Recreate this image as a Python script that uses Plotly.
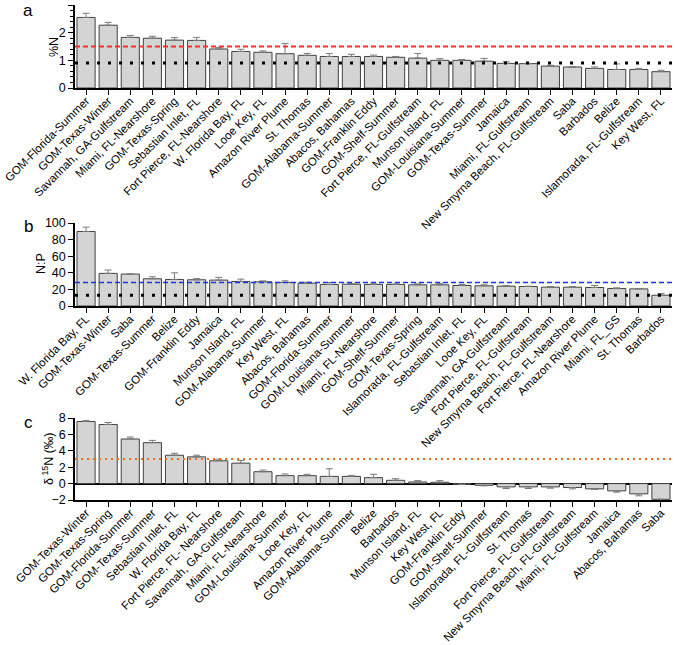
import plotly.graph_objects as go

# ---------------- data ----------------
a_sites = ["GOM-Florida-Summer", "GOM-Texas-Winter", "Savannah, GA-Gulfstream", "Miami, FL-Nearshore",
           "GOM-Texas-Spring", "Sebastian Inlet, FL", "Fort Pierce, FL-Nearshore", "W. Florida Bay, FL",
           "Looe Key, FL", "Amazon River Plume", "St. Thomas", "GOM-Alabama-Summer", "Abacos, Bahamas",
           "GOM-Franklin Eddy", "GOM-Shelf-Summer", "Fort Pierce, FL-Gulfstream", "Munson Island, FL",
           "GOM-Louisiana-Summer", "GOM-Texas-Summer", "Jamaica", "Miami, FL-Gulfstream",
           "New Smyrna Beach, FL-Gulfstream", "Saba", "Barbados", "Belize", "Islamorada, FL-Gulfstream",
           "Key West, FL"]
a_vals = [2.55, 2.27, 1.83, 1.80, 1.73, 1.72, 1.41, 1.32, 1.29, 1.24, 1.18, 1.14, 1.14,
          1.14, 1.11, 1.08, 1.00, 1.00, 0.97, 0.89, 0.88, 0.79, 0.76, 0.71, 0.67, 0.67, 0.59]
a_err = [0.15, 0.10, 0.07, 0.07, 0.09, 0.11, 0.06, 0.08, 0.05, 0.37, 0.07, 0.11, 0.08,
         0.05, 0.03, 0.17, 0.06, 0.03, 0.10, 0.06, 0.01, 0.03, 0.0, 0.05, 0.20, 0.04, 0.05]
a_line_red = 1.5
a_line_black = 0.9

b_sites = ["W. Florida Bay, FL", "GOM-Texas-Winter", "Saba", "GOM-Texas-Summer", "Belize",
           "GOM-Franklin Eddy", "Jamaica", "Munson Island, FL", "GOM-Alabama-Summer", "Key West, FL",
           "Abacos, Bahamas", "GOM-Florida-Summer", "GOM-Louisiana-Summer", "Miami, FL-Nearshore",
           "GOM-Shelf-Summer", "GOM-Texas-Spring", "Islamorada, FL-Gulfstream", "Sebastian Inlet, FL",
           "Looe Key, FL", "Savannah, GA-Gulfstream", "Fort Pierce, FL-Gulfstream",
           "New Smyrna Beach, FL-Gulfstream", "Fort Pierce, FL-Nearshore", "Amazon River Plume",
           "Miami, FL_GS", "St. Thomas", "Barbados"]
b_vals = [89.8, 39.3, 38.5, 32.8, 32.0, 31.6, 31.2, 29.6, 29.1, 28.4, 27.5, 26.0, 26.3, 26.0,
          26.0, 25.5, 25.5, 24.7, 24.3, 23.9, 23.5, 22.7, 22.7, 22.3, 21.0, 20.6, 13.0]
b_err = [5.2, 4.0, 0.0, 2.4, 8.0, 1.4, 3.3, 2.8, 1.2, 1.9, 1.2, 2.3, 0.6, 0.6,
         0.6, 1.2, 1.4, 1.2, 1.2, 0.8, 0.4, 0.8, 0.8, 2.4, 0.9, 0.4, 2.0]
b_line_blue = 28.4
b_line_black = 13

c_sites = ["GOM-Texas-Winter", "GOM-Texas-Spring", "GOM-Florida-Summer", "GOM-Texas-Summer",
           "Sebastian Inlet, FL", "W. Florida Bay, FL", "Fort Pierce, FL- Nearshore",
           "Savannah, GA-Gulfstream", "Miami, FL-Nearshore", "GOM-Louisiana-Summer", "Looe Key, FL",
           "Amazon River Plume", "GOM-Alabama-Summer", "Belize", "Barbados", "Munson Island, FL",
           "Key West, FL", "GOM-Franklin Eddy", "GOM-Shelf-Summer", "Islamorada, FL-Gulfstream",
           "St. Thomas", "Fort Pierce, FL-Gulfstream", "New Smyrna Beach, FL-Gulfstream",
           "Miami, FL-Gulfstream", "Jamaica", "Abacos, Bahamas", "Saba"]
c_vals = [7.57, 7.21, 5.44, 4.99, 3.46, 3.26, 2.78, 2.49, 1.45, 0.97, 0.97, 0.88, 0.88, 0.73,
          0.40, 0.20, 0.16, -0.08, -0.20, -0.40, -0.40, -0.40, -0.48, -0.64, -0.89, -1.25, -1.92]
c_err = [0.12, 0.24, 0.24, 0.28, 0.24, 0.20, 0.20, 0.33, 0.20, 0.20, 0.16, 0.93, 0.12, 0.40,
         0.20, 0.16, 0.20, 0.04, 0.08, 0.20, 0.20, 0.16, 0.16, 0.08, 0.16, 0.24, 0.0]
c_line_orange = 3.0

# ---------------- style ----------------
W, H = 675, 645
FONT = "Arial, Liberation Sans, sans-serif"
BAR_FILL = "#d4d4d4"
BAR_LINE = "#404040"
ERR_COL = "#7a7a7a"

xdom = [75 / W, 672 / W]


def ydom(top, bottom):
    return [1 - bottom / H, 1 - top / H]


fig = go.Figure()


def add_panel(sites, vals, errs, xa, ya):
    plus = [e if v >= 0 else 0 for v, e in zip(vals, errs)]
    minus = [e if v < 0 else 0 for v, e in zip(vals, errs)]
    fig.add_trace(go.Bar(
        x=sites, y=vals, xaxis=xa, yaxis=ya,
        marker=dict(color=BAR_FILL, line=dict(color=BAR_LINE, width=1)),
        error_y=dict(type="data", symmetric=False, array=plus, arrayminus=minus,
                     color=ERR_COL, thickness=1, width=3.5),
        showlegend=False, hoverinfo="x+y",
    ))


add_panel(a_sites, a_vals, a_err, "x", "y")
add_panel(b_sites, b_vals, b_err, "x2", "y2")
add_panel(c_sites, c_vals, c_err, "x3", "y3")

xcommon = dict(type="category", range=[-0.5, 26.5], showline=True, linecolor="black", linewidth=1.5,
               ticks="outside", ticklen=5, tickwidth=1, tickcolor="black", tickangle=-45,
               ticklabelstandoff=-5,
               tickfont=dict(family=FONT, size=11.5, color="black"), showgrid=False,
               automargin=False, domain=xdom)
ycommon = dict(showline=True, linecolor="black", linewidth=1.5, ticks="outside", ticklen=5,
               tickwidth=1, tickcolor="black", tickfont=dict(family=FONT, size=12.5, color="black"),
               showgrid=False, zeroline=False, automargin=False)

fig.update_layout(
    width=W, height=H, margin=dict(l=0, r=0, t=0, b=0),
    paper_bgcolor="white", plot_bgcolor="white", bargap=0.18,
    font=dict(family=FONT, color="black"),
    xaxis=dict(xcommon, anchor="y"),
    xaxis2=dict(xcommon, anchor="y2"),
    xaxis3=dict(xcommon, anchor="y3"),
    yaxis=dict(ycommon, domain=ydom(5, 88), range=[0, 3], dtick=1, anchor="x",
               minor=dict(dtick=0.2, ticks="outside", ticklen=3, tickcolor="black")),
    yaxis2=dict(ycommon, domain=ydom(223, 306), range=[0, 100], dtick=20, anchor="x2"),
    yaxis3=dict(ycommon, domain=ydom(418, 500), range=[-2, 8], dtick=2, anchor="x3",
                zeroline=True, zerolinecolor="black", zerolinewidth=1.5),
)

# reference lines
fig.add_shape(type="line", xref="x domain", yref="y", x0=0, x1=1, y0=a_line_red, y1=a_line_red,
              line=dict(color="#ff2a2a", width=2, dash="5px,3px"))
fig.add_shape(type="line", xref="x domain", yref="y", x0=0, x1=1, y0=a_line_black, y1=a_line_black,
              line=dict(color="black", width=3, dash="3px,8px"))
fig.add_shape(type="line", xref="x2 domain", yref="y2", x0=0, x1=1, y0=b_line_blue, y1=b_line_blue,
              line=dict(color="#1f2fff", width=1.6, dash="5px,3px"))
fig.add_shape(type="line", xref="x2 domain", yref="y2", x0=0, x1=1, y0=b_line_black, y1=b_line_black,
              line=dict(color="black", width=3, dash="3px,8px"))
fig.add_shape(type="line", xref="x3 domain", yref="y3", x0=0, x1=1, y0=c_line_orange, y1=c_line_orange,
              line=dict(color="#ff6a1a", width=2, dash="2px,4px"))

# y-axis titles
for txt, xpx, ypx in [("%N", 54, 47), ("N:P", 41, 264), ("δ<sup> 15</sup>N (‰)", 48, 459)]:
    fig.add_annotation(text=txt, xref="paper", yref="paper", x=xpx / W, y=1 - ypx / H,
                       xanchor="center", yanchor="middle", textangle=-90, showarrow=False,
                       font=dict(family=FONT, size=12.5, color="black"))

# panel letters
for letter, ypx in [("a", 10), ("b", 226), ("c", 422)]:
    fig.add_annotation(text=letter, xref="paper", yref="paper", x=28 / W, y=1 - ypx / H,
                       xanchor="center", yanchor="middle", showarrow=False,
                       font=dict(family=FONT, size=17, color="black"))

fig.write_html("out.html", config={"displayModeBar": False},
               post_script="document.body.style.margin='0';document.body.style.overflow='hidden';")
